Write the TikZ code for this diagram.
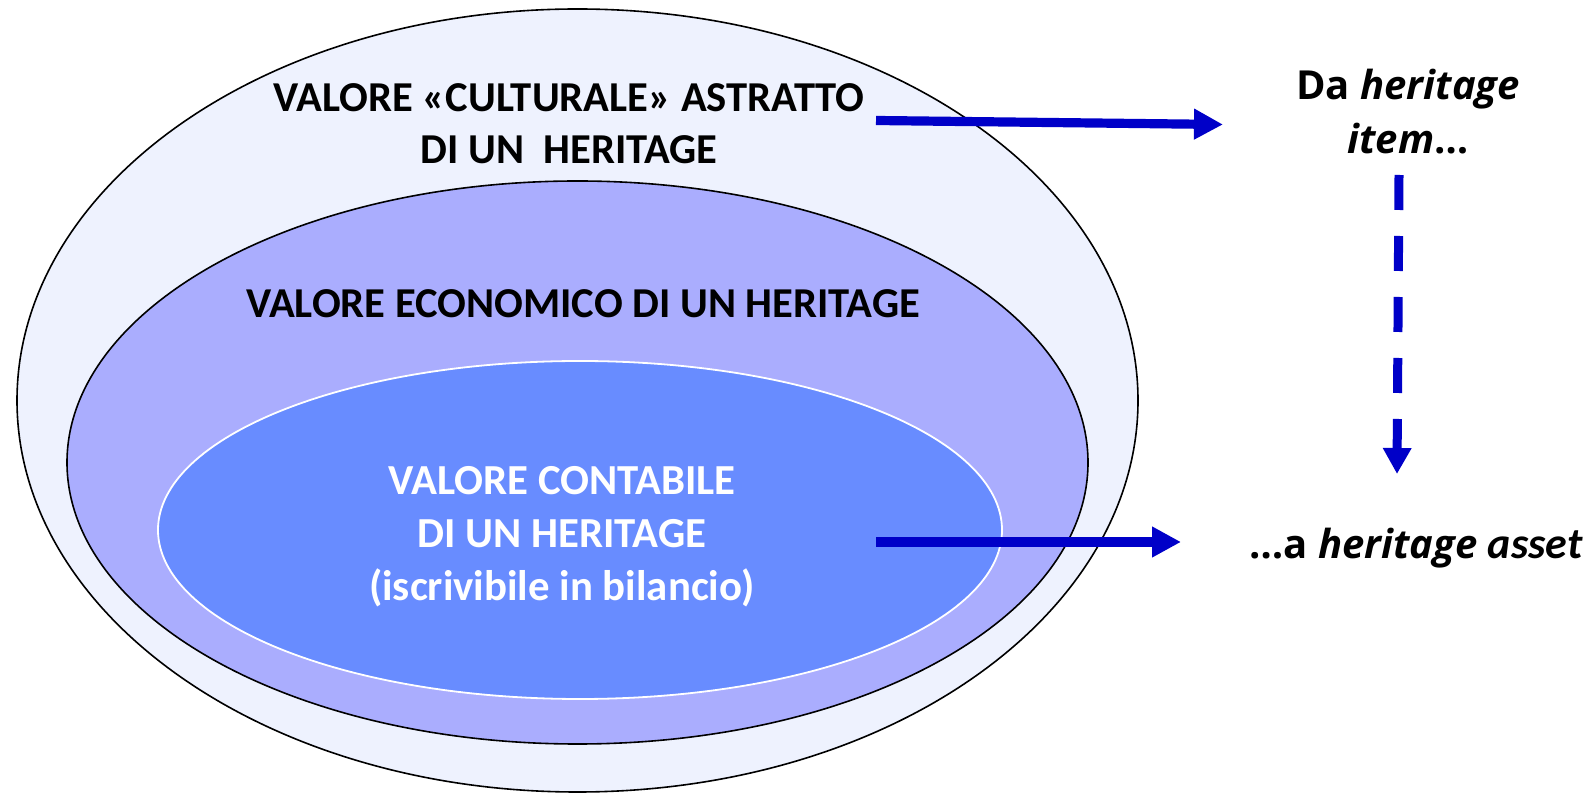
\documentclass[tikz,border=0pt]{standalone}
\usepackage{fontspec}
\setmainfont{Carlito}
\newfontfamily\segoe{Open Sans}
\usetikzlibrary{arrows.meta,shapes.geometric}
\definecolor{outerfill}{RGB}{238,242,254}
\definecolor{midfill}{RGB}{170,173,254}
\definecolor{innerfill}{RGB}{104,140,255}
\definecolor{arrowblue}{RGB}{0,0,200}
\tikzset{
  ring/.style={ellipse, inner sep=0pt, draw=black, line width=0.8pt},
  bigtxt/.style={font=\fontsize{21.3}{26}\selectfont\bfseries, align=center, inner sep=0pt},
  sidetxt/.style={font=\segoe\fontsize{20}{27}\selectfont\bfseries, align=center, inner sep=0pt},
  bluearrow/.style={draw=arrowblue, line width=4.6pt, -{Triangle[length=14.5pt,width=14.5pt]}},
  dasharrow/.style={draw=arrowblue, line width=4.5pt, dash pattern=on 17.5pt off 13pt, -{Triangle[length=13pt,width=13.5pt]}}
}
\begin{document}
\begin{tikzpicture}[x=0.5pt,y=-0.5pt]
\useasboundingbox (0,0) rectangle (1595,795);
\node[ring, fill=outerfill, minimum width=560.5pt, minimum height=391.5pt] (outer) at (577.5,400.5) {};
\node[ring, fill=midfill, minimum width=510.5pt, minimum height=281.5pt] (mid) at (577.5,462.5) {};
\node[ring, fill=innerfill, draw=white, line width=0.9pt, minimum width=422pt, minimum height=169pt] (inner) at (580,530) {};

\node[bigtxt] (cult) at (569,124) {VALORE «CULTURALE» ASTRATTO\\DI UN\ \ HERITAGE};
\node[bigtxt] (econ) at (583,304) {VALORE ECONOMICO DI UN HERITAGE};
\node[bigtxt, text=white, font=\fontsize{21.4}{26.5}\selectfont\bfseries] (cont) at (562,537) {VALORE CONTABILE\\DI UN HERITAGE\\(iscrivibile in bilancio)};

\node[sidetxt] (item) at (1408,112) {Da \textit{heritage}\\\textit{item}…};
\node[sidetxt, anchor=base west] (asset) at (1249,559) {…a \textit{heritage} {\fontspec{Carlito}\fontsize{22}{26}\selectfont\bfseries\itshape asset}};

\coordinate (a1s) at (876,120.5);
\coordinate (a1e) at (1223,124.5);
\coordinate (a2s) at (876,542);
\coordinate (a2e) at (1181,542);
\coordinate (a3s) at (1399,175);
\coordinate (a3e) at (1397,474);
\draw[bluearrow] (a1s) -- (a1e);
\draw[bluearrow] (a2s) -- (a2e);
\draw[dasharrow] (a3s) -- (a3e);
\end{tikzpicture}
\end{document}
